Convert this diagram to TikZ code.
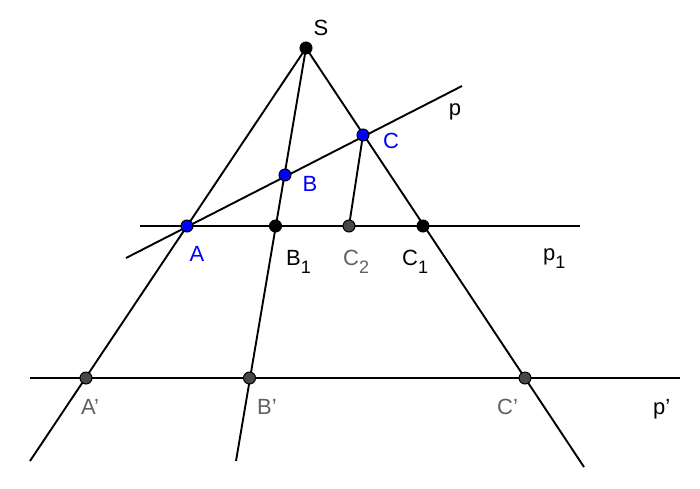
\documentclass[tikz,border=0pt]{standalone}
\usepackage{fontspec}
\setmainfont{Liberation Sans}
\newcommand{\sbs}[1]{\raisebox{-0.38em}{\fontsize{18}{18}\selectfont #1}}
\begin{document}
\begin{tikzpicture}[x=1pt,y=-1pt,
  ln/.style={line width=1.9pt,black},
  pt/.style={circle,draw=black,line width=1pt,inner sep=0pt,minimum size=12pt},
  bpt/.style={pt,fill=black},
  upt/.style={pt,fill=blue},
  gpt/.style={pt,fill=black!72},
  lab/.style={font=\fontsize{22}{22}\selectfont,inner sep=0pt},
  blab/.style={lab,text=blue},
  glab/.style={lab,text=black!62}]
\useasboundingbox (0,0) rectangle (700,488);
% points
\coordinate (S) at (306,48);
\coordinate (A) at (187,226);
\coordinate (B) at (285,175);
\coordinate (C) at (363,135);
\coordinate (B1) at (275.5,226);
\coordinate (C2) at (349,226);
\coordinate (C1) at (423,226);
\coordinate (A') at (86,378);
\coordinate (B') at (249.5,378);
\coordinate (C') at (525,378);
% free ends
\coordinate (pa) at (126,258);
\coordinate (pb) at (462,86);
\coordinate (p1a) at (140,226);
\coordinate (p1b) at (580,226);
\coordinate (qa) at (30,378);
\coordinate (qb) at (680,378);
\coordinate (ea) at (30,461);
\coordinate (eb) at (236,461);
\coordinate (ec) at (584,467);
% lines
\draw[ln] (S) -- (ea);
\draw[ln] (S) -- (eb);
\draw[ln] (S) -- (ec);
\draw[ln] (pa) -- (pb);
\draw[ln] (p1a) -- (p1b);
\draw[ln] (qa) -- (qb);
\draw[ln] (C) -- (C2);
% point markers
\node[bpt] (nS) at (S) {};
\node[upt] (nA) at (A) {};
\node[upt] (nB) at (B) {};
\node[upt] (nC) at (C) {};
\node[bpt] (nB1) at (B1) {};
\node[gpt] (nC2) at (C2) {};
\node[bpt] (nC1) at (C1) {};
\node[gpt] (nA') at (A') {};
\node[gpt] (nB') at (B') {};
\node[gpt] (nC') at (C') {};
% labels
\node[lab] (lS) at (321,28) {S};
\node[lab] (lp) at (455,112) {p};
\node[blab] (lC) at (391,141) {C};
\node[blab] (lB) at (310,184) {B};
\node[blab] (lA) at (197,254) {A};
\node[lab,anchor=base west] (lB1) at (286,265) {B\sbs{1}};
\node[glab,anchor=base west] (lC2) at (343,265) {C\sbs{2}};
\node[lab,anchor=base west] (lC1) at (402,265) {C\sbs{1}};
\node[lab,anchor=base west] (lp1) at (543,260) {p\sbs{1}};
\node[glab,anchor=base west] (lA') at (81,414) {A'};
\node[glab,anchor=base west] (lB') at (257,414) {B'};
\node[glab,anchor=base west] (lC') at (497,414) {C'};
\node[lab,anchor=base west] (lq) at (653,414) {p'};
\end{tikzpicture}
\end{document}
